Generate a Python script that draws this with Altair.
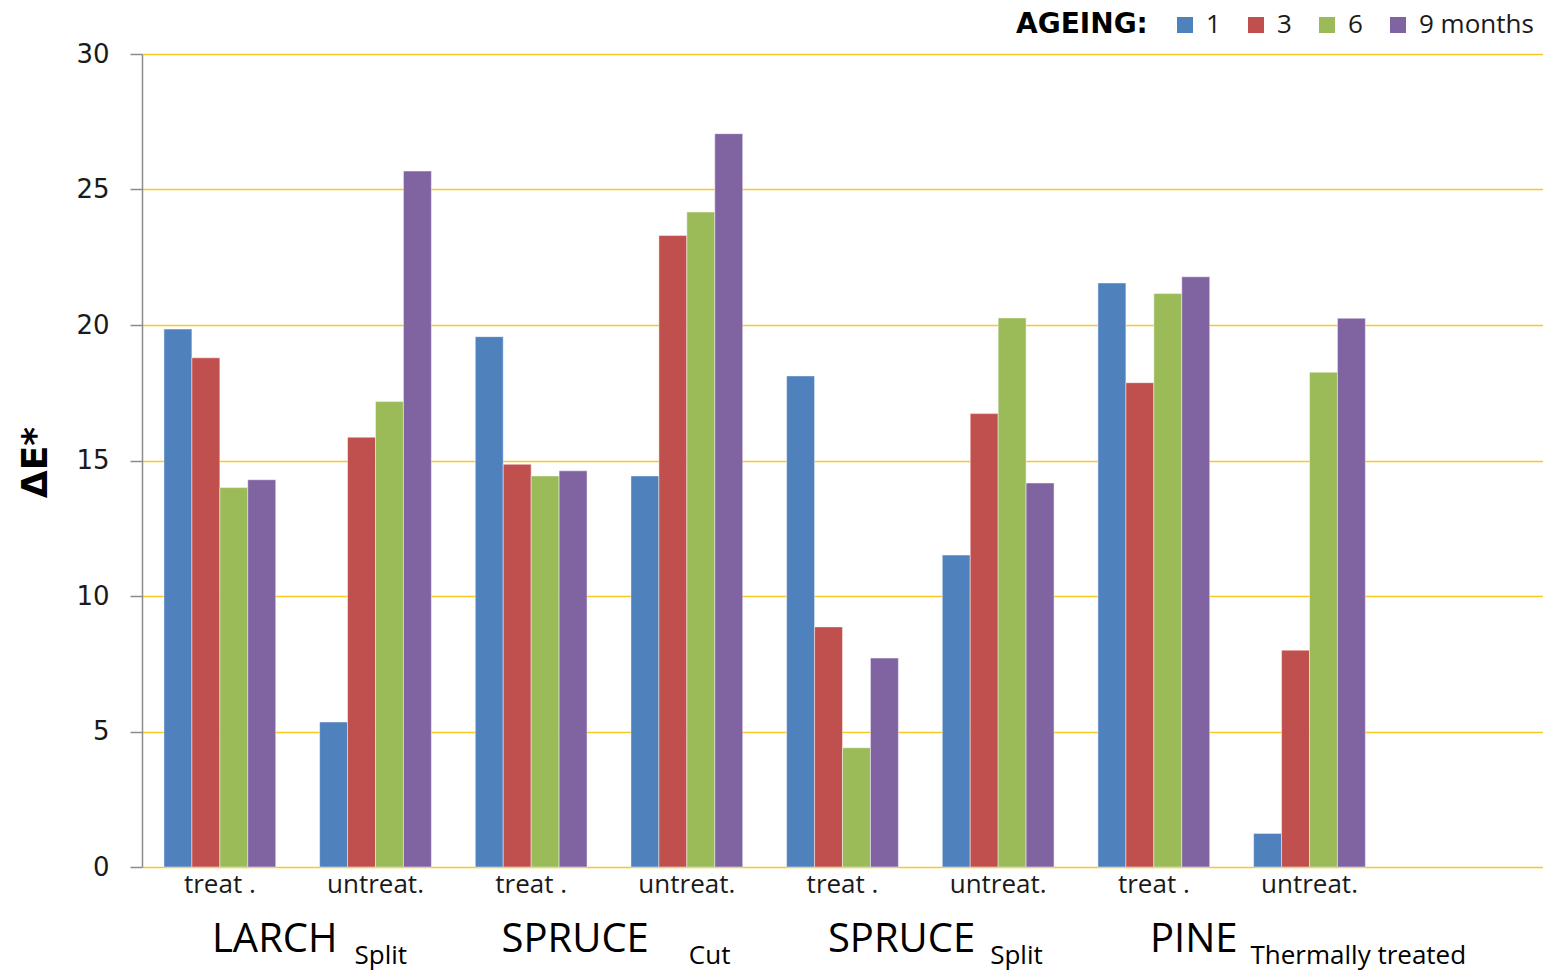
import altair as alt
import pandas as pd

# Slots on the x axis: wood / surface state, plus one spare slot at the right end
slots = [
    "LARCH Split|treat .", "LARCH Split|untreat.",
    "SPRUCE Cut|treat .", "SPRUCE Cut|untreat.",
    "SPRUCE Split|treat .", "SPRUCE Split|untreat.",
    "PINE Thermally treated|treat .", "PINE Thermally treated|untreat.",
    "spare|",
]

ageing = ["1", "3", "6", "9 months"]
colors = ["#4F81BD", "#C0504D", "#9BBB59", "#8064A2"]

# Colour difference ΔE* after each ageing period
de_1m = [19.85, 5.35, 19.57, 14.43, 18.12, 11.51, 21.55, 1.24]
de_3m = [18.79, 15.86, 14.86, 23.30, 8.86, 16.73, 17.87, 8.00]
de_6m = [14.00, 17.18, 14.43, 24.17, 4.40, 20.26, 21.16, 18.26]
de_9m = [14.29, 25.68, 14.62, 27.06, 7.71, 14.17, 21.78, 20.25]

# Species captions under each treat/untreat pair
species_names = ["LARCH", "SPRUCE", "SPRUCE", "PINE"]
species_subs = ["Split", "Cut", "Split", "Thermally treated"]
species_anchor = [slots[1], slots[3], slots[5], slots[7]]
name_dx = [-38, -38, -23, -72]
sub_dx = [-21, 2, -8, -59]

rows = []
for month, series in zip(ageing, [de_1m, de_3m, de_6m, de_9m]):
    for slot, v in zip(slots, series):
        rows.append({"slot": slot, "ageing": month, "dE": v})
df = pd.DataFrame(rows)

x_scale = alt.Scale(domain=slots, paddingInner=0.282, paddingOuter=0.141)
x_enc = alt.X(
    "slot:N",
    scale=x_scale,
    sort=slots,
    title=None,
    axis=alt.Axis(
        labelExpr="split(datum.value, '|')[1]",
        labelAngle=0,
        labelFont="Open Sans",
        labelFontSize=26,
        labelColor="#1a1a1a",
        labelBaseline="alphabetic",
        labelPadding=25,
        ticks=False,
        domain=False,
        grid=False,
    ),
)

bars = alt.Chart(df).mark_bar(
    stroke="white", strokeWidth=1, strokeOpacity=0.45
).encode(
    x=x_enc,
    xOffset=alt.XOffset("ageing:N", sort=ageing, scale=alt.Scale(domain=ageing, paddingInner=0, paddingOuter=0)),
    y=alt.Y(
        "dE:Q",
        scale=alt.Scale(domain=[0, 30], nice=False),
        axis=alt.Axis(
            values=[0, 5, 10, 15, 20, 25, 30],
            title="ΔE*",
            titleFont="DejaVu Sans",
            titleFontSize=36,
            titleFontWeight="bold",
            titleColor="black",
            titleAngle=-90,
            titleX=-107,
            titleY=408,
            titleAlign="center",
            titleBaseline="middle",
            labelFont="DejaVu Sans",
            labelFontSize=26,
            labelColor="#1a1a1a",
            labelPadding=21,
            tickSize=12,
            tickColor="#8c8c8c",
            tickWidth=1.5,
            domainColor="#8c8c8c",
            domainWidth=1.5,
            grid=True,
            gridColor="#F8C824",
            gridWidth=1.6,
        ),
    ),
    color=alt.Color(
        "ageing:N",
        sort=ageing,
        scale=alt.Scale(domain=ageing, range=colors),
        legend=alt.Legend(
            title="AGEING:",
            orient="none",
            legendX=874,
            legendY=-42,
            direction="horizontal",
            titleOrient="left",
            titleFont="DejaVu Sans",
            titleFontSize=28,
            titleFontWeight="bold",
            titleColor="black",
            titlePadding=24,
            titleBaseline="middle",
            symbolType="square",
            symbolSize=256,
            symbolStrokeWidth=0,
            symbolOpacity=1,
            labelFont="Open Sans",
            labelFontSize=26,
            labelColor="#1a1a1a",
            labelOffset=8,
            columnPadding=22,
        ),
    ),
)

layers = [bars]
for name, sub, anchor, ndx, sdx in zip(species_names, species_subs, species_anchor, name_dx, sub_dx):
    d = pd.DataFrame({"slot": [anchor], "name": [name], "sub": [sub]})
    base = alt.Chart(d).encode(x=x_enc)
    layers.append(
        base.mark_text(
            align="right", baseline="alphabetic", font="Open Sans",
            fontSize=40, color="black", dx=ndx,
        ).encode(y=alt.value(898), text="name:N")
    )
    layers.append(
        base.mark_text(
            align="left", baseline="alphabetic", font="Open Sans",
            fontSize=26, color="black", dx=sdx,
        ).encode(y=alt.value(910), text="sub:N")
    )

chart = alt.layer(*layers).properties(
    width=1401,
    height=813,
    padding={"left": 142, "top": 54, "right": 0, "bottom": 105},
    autosize=alt.AutoSizeParams(type="none"),
    background="white",
).configure_view(stroke=None)

chart.save("out.html", embed_options={"renderer": "svg", "actions": False})
